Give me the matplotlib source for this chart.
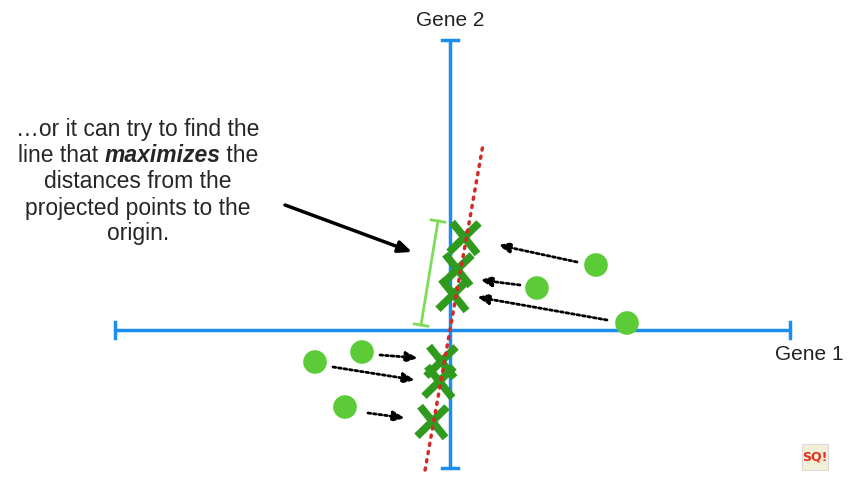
import matplotlib
matplotlib.use("Agg")
import matplotlib.pyplot as plt
from matplotlib.path import Path
import numpy as np

# Data (coordinates relative to origin, y up)
point_x = [146, 87, 177, -135, -88, -105]
point_y = [65, 42, 7, -32, -22, -77]
proj_x = [14, 7, 3, -9, -11, -18]
proj_y = [92, 60, 35, -32, -52, -92]
# dotted arrows: start (tail) and end (head)
arrow_start_x = [127, 70, 157, -117, -70, -82]
arrow_start_y = [68, 45, 10, -37, -25, -83]
arrow_end_x = [48, 30, 27, -35, -32, -45]
arrow_end_y = [85, 50, 33, -50, -28, -88]
line_dir = (0.178, 1.0)

fig = plt.figure(figsize=(8.5, 4.78), dpi=100)
ax = fig.add_axes([0, 0, 1, 1])
ax.set_xlim(-450, 400)
ax.set_ylim(-148, 330)
ax.axis('off')

blue = '#1a8ff0'
# axes
ax.plot([-335, 340], [0, 0], color=blue, lw=2.5, solid_capstyle='butt', zorder=2)
ax.plot([0, 0], [-138, 290], color=blue, lw=2.5, solid_capstyle='butt', zorder=2)
for xx in (-335, 340):
    ax.plot([xx, xx], [-8, 8], color=blue, lw=2.5, zorder=2)
for yy in (-138, 290):
    ax.plot([-8, 8], [yy, yy], color=blue, lw=2.5, zorder=2)

ax.text(0, 304, 'Gene 2', ha='center', va='baseline', fontsize=15, family='Liberation Sans', color='#222222')
ax.text(359, -30, 'Gene 1', ha='center', va='baseline', fontsize=15, family='Liberation Sans', color='#222222')

# red dotted line
t = np.array([-140, 185])
ax.plot(line_dir[0]*t, line_dir[1]*t, color='#d42a2a', lw=2.5, ls=(0, (0.6, 1.8)),
        dash_capstyle='round', zorder=6)

# points
ax.scatter(point_x, point_y, s=290, color='#5bcc38', zorder=4, edgecolors='none')

# projections: hand-drawn style X marker
xmark = Path([(-0.75, 1.0), (0.85, -1.0), (0.95, 0.95), (-0.95, -0.9)],
             [Path.MOVETO, Path.LINETO, Path.MOVETO, Path.LINETO])
ax.scatter(proj_x, proj_y, marker=xmark, s=520, facecolors='none', edgecolors='#2f9a1c',
           linewidths=5.5, zorder=5)

# dotted arrows
for sx, sy, ex, ey in zip(arrow_start_x, arrow_start_y, arrow_end_x, arrow_end_y):
    ax.annotate('', xy=(ex, ey), xytext=(sx, sy),
                arrowprops=dict(arrowstyle='-|>,head_length=0.7,head_width=0.3', color='black',
                                lw=2, ls=(0, (1, 1)), shrinkA=0, shrinkB=0), zorder=6)

# big solid arrow
ax.annotate('', xy=(-38, 78), xytext=(-165, 125),
            arrowprops=dict(arrowstyle='-|>,head_length=0.8,head_width=0.35', color='black',
                            lw=2.5, shrinkA=0, shrinkB=0), zorder=6)

# bracket
bc = '#7ddc5a'
b0 = np.array([-12, 109]); b1 = np.array([-29, 5])
ax.plot([b0[0], b1[0]], [b0[1], b1[1]], color=bc, lw=2, zorder=3)
d = b1 - b0; n = np.array([-d[1], d[0]]); n = n/np.linalg.norm(n)*7
for b in (b0, b1):
    ax.plot([b[0]-n[0], b[0]+n[0]], [b[1]-n[1], b[1]+n[1]], color=bc, lw=2, zorder=3)

# annotation text
fam = 'Liberation Sans'
fs = 16.5
cx = -312
lines_y = [194, 168, 142, 115, 90]
tc = '#262626'
ax.text(cx, lines_y[0], '…or it can try to find the', ha='center', va='baseline', fontsize=fs, family=fam, color=tc)
ax.text(cx, lines_y[2], 'distances from the', ha='center', va='baseline', fontsize=fs, family=fam, color=tc)
ax.text(cx, lines_y[3], 'projected points to the', ha='center', va='baseline', fontsize=fs, family=fam, color=tc)
ax.text(cx, lines_y[4], 'origin.', ha='center', va='baseline', fontsize=fs, family=fam, color=tc)

# mixed-style line
fig.canvas.draw()
r = fig.canvas.get_renderer()
parts = [('line that ', 'normal', 'normal'), ('maximizes', 'bold', 'italic'), (' the', 'normal', 'normal')]
widths = []
for s, w, st in parts:
    tt = ax.text(0, 0, s, fontsize=fs, family=fam, fontweight=w, fontstyle=st)
    bb = tt.get_window_extent(renderer=r)
    widths.append(bb.width)
    tt.remove()
total = sum(widths)
x0_pix = ax.transData.transform((cx, 0))[0] - total/2
inv = ax.transData.inverted()
xp = x0_pix
for (s, w, st), wd in zip(parts, widths):
    xd = inv.transform((xp, 0))[0]
    ax.text(xd, lines_y[1], s, ha='left', va='baseline', fontsize=fs, family=fam,
            fontweight=w, fontstyle=st, color=tc)
    xp += wd

# logo
ax.add_patch(plt.Rectangle((352, -140), 26, 26, facecolor='#f4f0d8', edgecolor='#cccccc', lw=0.5, zorder=1))
ax.text(365, -127, 'SQ!', ha='center', va='center', fontsize=9, fontweight='bold', color='#e03020', zorder=2)

fig.savefig('out.png', dpi=100)
